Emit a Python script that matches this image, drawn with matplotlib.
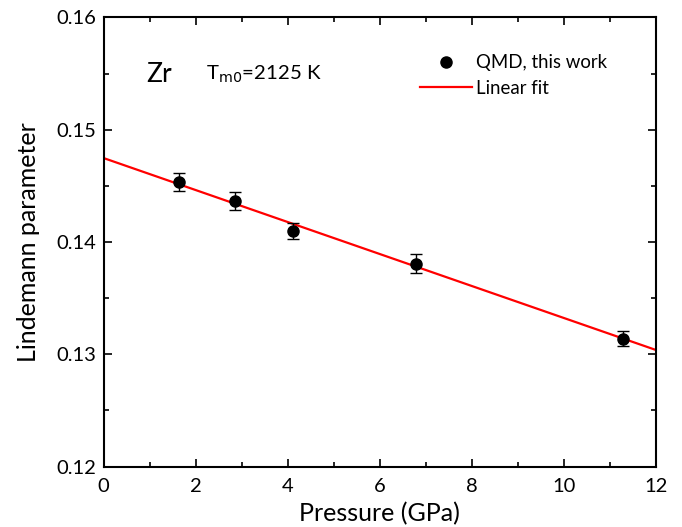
import numpy as np
import matplotlib.pyplot as plt
from matplotlib.ticker import MultipleLocator

plt.rcParams['font.family'] = ['Lato', 'DejaVu Sans']

# QMD points
pressure = [1.63, 2.85, 4.11, 6.79, 11.28]
lindemann = [0.14533, 0.14364, 0.14096, 0.13806, 0.13138]
err = [0.00078, 0.00083, 0.00073, 0.00085, 0.00065]

# linear fit
fit_x = [0, 12]
fit_intercept = 0.14748
fit_slope = -0.001425

fig = plt.figure(figsize=(6.82, 5.27), dpi=100)
ax = fig.add_axes([0.1518, 0.1148, 0.81, 0.852])

fx = np.array(fit_x)
ax.plot(fx, fit_intercept + fit_slope * fx, color='red', lw=1.6, label='Linear fit', zorder=2)
ax.errorbar(pressure, lindemann, yerr=err, fmt='none', ecolor='black', elinewidth=1.0,
            capsize=4.3, capthick=1.0, zorder=3)
ax.plot(pressure, lindemann, 'o', color='black', ms=8, label='QMD, this work', zorder=4)

ax.set_xlim(0, 12)
ax.set_ylim(0.12, 0.16)
ax.xaxis.set_major_locator(MultipleLocator(2))
ax.xaxis.set_minor_locator(MultipleLocator(1))
ax.yaxis.set_major_locator(MultipleLocator(0.01))
ax.yaxis.set_minor_locator(MultipleLocator(0.005))
ax.tick_params(which='both', direction='in', top=True, right=True, width=1.2, labelsize=14.5)
ax.tick_params(which='major', length=6)
ax.tick_params(which='minor', length=3.5)
ax.tick_params(axis='x', pad=8)
ax.tick_params(axis='y', pad=5)
for s in ax.spines.values():
    s.set_linewidth(1.5)

ax.set_xlabel('Pressure (GPa)', fontsize=18, labelpad=5)
ax.set_ylabel('Lindemann parameter', fontsize=18, labelpad=12)

ax.text(0.078, 0.874, 'Zr', transform=ax.transAxes, fontsize=19, va='center')
ax.text(0.1855, 0.874, r'T$_{\rm m0}$=2125 K', transform=ax.transAxes, fontsize=14.7, va='center')

h, l = ax.get_legend_handles_labels()
ax.legend(h[::-1], l[::-1], loc='upper right', bbox_to_anchor=(0.941, 0.955), frameon=False,
          fontsize=13.4, handlelength=2.8, handletextpad=0.2, labelspacing=0.45)

fig.savefig('out.png', dpi=100)
